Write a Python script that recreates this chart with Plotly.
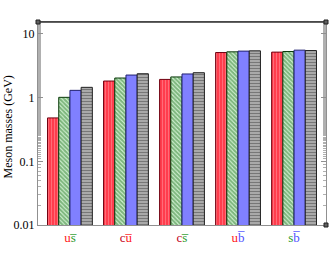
import plotly.graph_objects as go

categories = [1, 2, 3, 4, 5]
cat_labels = [
    "<span style='color:#ff2020'>u</span><span style='color:#2a9a2a'>s̅</span>",
    "<span style='color:#c00020'>c</span><span style='color:#ff2020'>u̅</span>",
    "<span style='color:#c00020'>c</span><span style='color:#2a9a2a'>s̅</span>",
    "<span style='color:#ff2020'>u</span><span style='color:#5050ff'>b̅</span>",
    "<span style='color:#2a9a2a'>s</span><span style='color:#5050ff'>b̅</span>",
]
red_vals = [0.48, 1.82, 1.93, 5.10, 5.18]
green_vals = [1.01, 2.03, 2.11, 5.23, 5.29]
blue_vals = [1.30, 2.26, 2.35, 5.37, 5.56]
gray_vals = [1.45, 2.37, 2.46, 5.42, 5.48]

fig = go.Figure()
fig.add_trace(go.Bar(x=categories, y=red_vals,
    marker=dict(color="#ff4050", line=dict(color="#700010", width=1),
                pattern=dict(shape="|", fgcolor="#ffa0a8", bgcolor="#ff3848", size=3, solidity=0.4))))
fig.add_trace(go.Bar(x=categories, y=green_vals,
    marker=dict(color="#157015", line=dict(color="#0a3a0a", width=1),
                pattern=dict(shape="\\", fgcolor="#157015", bgcolor="#e8ffe8", size=3, solidity=0.75))))
fig.add_trace(go.Bar(x=categories, y=blue_vals,
    marker=dict(color="#8080ff", line=dict(color="#202070", width=1))))
fig.add_trace(go.Bar(x=categories, y=gray_vals,
    marker=dict(color="#404040", line=dict(color="#202020", width=1),
                pattern=dict(shape="-", fgcolor="#3a3a3a", bgcolor="#b4b4b4", size=3, solidity=0.45))))

fig.update_layout(
    width=330, height=255,
    margin=dict(l=38, r=4, t=22, b=30, autoexpand=False),
    paper_bgcolor="white", plot_bgcolor="white",
    barmode="group", bargap=0.2, bargroupgap=0,
    showlegend=False,
    font=dict(family="Liberation Serif", size=12, color="black"),
)
fig.update_xaxes(
    range=[0.43, 5.57], tickmode="array", tickvals=categories, ticktext=cat_labels,
    showline=True, linecolor="#909090", linewidth=1, mirror=True,
    ticks="", showgrid=False, zeroline=False, tickfont=dict(size=13), automargin=False,
)
fig.update_yaxes(
    type="log", range=[-2, 1.187],
    tickvals=[0.01, 0.1, 1, 10], ticktext=["0.01", "0.1", "1", "10"],
    ticks="inside", ticklen=5, tickcolor="#909090",
    minor=dict(ticks="inside", ticklen=3, tickcolor="#b0b0b0", showgrid=False),
    showline=True, linecolor="#909090", linewidth=1, mirror="ticks",
    showgrid=False, zeroline=False, automargin=False,
    tickfont=dict(size=12),
)
fig.add_annotation(text="Meson masses (GeV)", xref="paper", yref="paper", x=0, y=0.5,
                   xshift=-31, yshift=-4, textangle=-90, showarrow=False,
                   xanchor="center", yanchor="middle", font=dict(size=12))
fig.add_shape(type="line", xref="paper", yref="paper", x0=0, x1=1, y0=1, y1=1,
              line=dict(color="#303030", width=1.5))
for cx, cy in [(0, 1), (1, 1), (1, 0)]:
    fig.add_shape(type="rect", xref="paper", yref="paper", xsizemode="pixel", ysizemode="pixel",
                  xanchor=cx, yanchor=cy, x0=-2, x1=2, y0=-2, y1=2,
                  line=dict(color="#202020", width=1), fillcolor="#606060")

fig.write_html("out.html", config={"displayModeBar": False},
               post_script="document.body.style.margin='0px';")
